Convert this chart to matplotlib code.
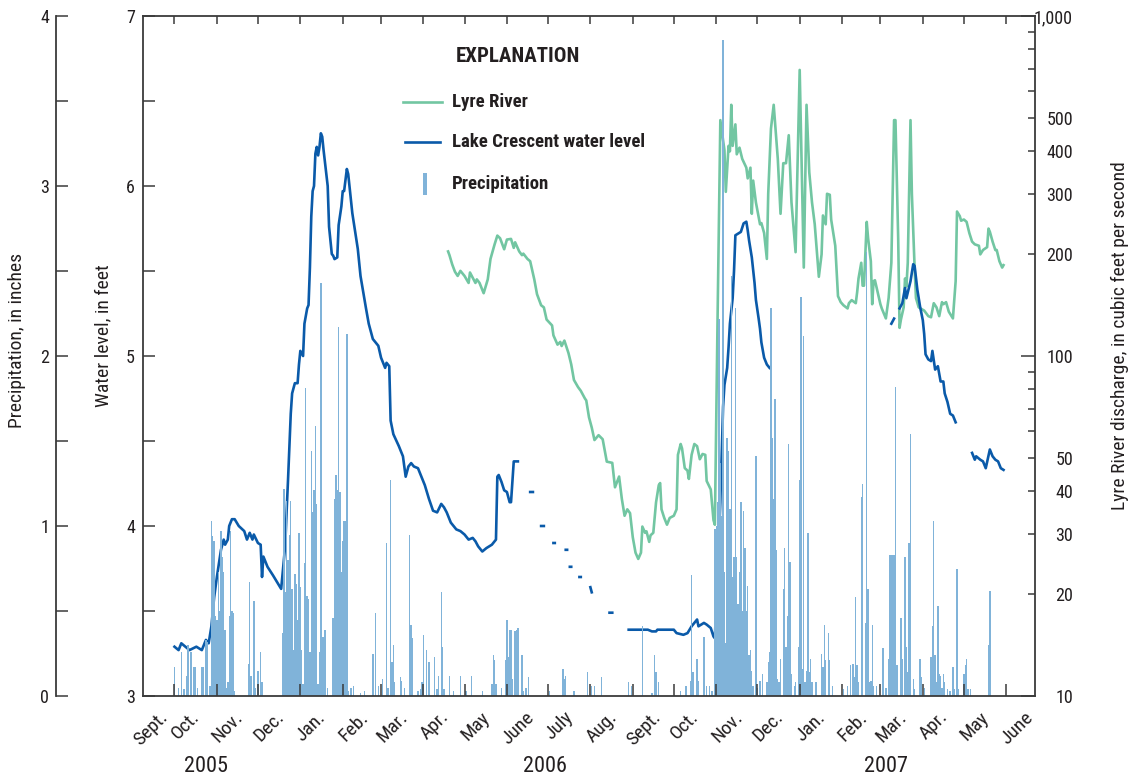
import numpy as np
import matplotlib
matplotlib.use("Agg")
import matplotlib.pyplot as plt
import matplotlib.transforms as mtransforms
from matplotlib import font_manager
from matplotlib.lines import Line2D
from matplotlib.patches import Rectangle
from matplotlib.ticker import FixedLocator, NullFormatter, FixedFormatter

# ---------------------------------------------------------------- fonts
_names = {f.name for f in font_manager.fontManager.ttflist}
_family = next((n for n in ("Liberation Sans Narrow", "Roboto Condensed", "Liberation Sans")
                if n in _names), "DejaVu Sans")
plt.rcParams["font.family"] = [_family, "DejaVu Sans"]

nan = float("nan")

# ---------------------------------------------------------------- data
# Lake Crescent water level, feet (nan marks a break in the record)
level_dates = [
    "2005-10-01", "2005-10-04", "2005-10-06", "2005-10-09", "2005-10-12", "2005-10-17",
    "2005-10-21", "2005-10-24", "2005-10-26", "2005-10-28", "2005-10-30", "2005-11-01",
    "2005-11-04", "2005-11-06", "2005-11-07", "2005-11-09", "2005-11-10", "2005-11-12",
    "2005-11-14", "2005-11-17", "2005-11-21", "2005-11-23", "2005-11-25", "2005-11-27",
    "2005-11-28", "2005-12-01", "2005-12-03", "2005-12-04", "2005-12-05", "2005-12-08",
    "2005-12-12", "2005-12-15", "2005-12-18", "2005-12-21", "2005-12-22", "2005-12-23",
    "2005-12-25", "2005-12-26", "2005-12-28", "2005-12-30", "2005-12-31", "2006-01-01",
    "2006-01-03", "2006-01-04", "2006-01-06", "2006-01-07", "2006-01-08", "2006-01-09",
    "2006-01-10", "2006-01-11", "2006-01-12", "2006-01-13", "2006-01-14", "2006-01-15",
    "2006-01-16", "2006-01-17", "2006-01-18", "2006-01-21", "2006-01-22", "2006-01-24",
    "2006-01-25", "2006-01-26", "2006-01-28", "2006-01-29", "2006-01-31", "2006-02-01",
    "2006-02-02", "2006-02-04", "2006-02-05", "2006-02-08", "2006-02-12", "2006-02-14",
    "2006-02-18", "2006-02-20", "2006-02-23", "2006-02-25", "2006-02-27", "2006-03-01",
    "2006-03-04", "2006-03-05", "2006-03-07", "2006-03-08", "2006-03-10", "2006-03-14",
    "2006-03-17", "2006-03-19", "2006-03-21", "2006-03-23", "2006-03-25", "2006-03-28",
    "2006-03-31", "2006-04-02", "2006-04-05", "2006-04-08", "2006-04-11", "2006-04-14",
    "2006-04-16", "2006-04-18", "2006-04-21", "2006-04-25", "2006-04-28", "2006-05-01",
    "2006-05-04", "2006-05-07", "2006-05-09", "2006-05-11", "2006-05-14", "2006-05-17",
    "2006-05-21", "2006-05-24", "2006-05-25", "2006-05-26", "2006-05-28", "2006-05-30",
    "2006-06-01", "2006-06-03", "2006-06-04", "2006-06-06", "2006-06-09", "2006-06-13",
    "2006-06-18", "2006-06-20", "2006-06-23", "2006-06-26", "2006-06-28", "2006-07-01",
    "2006-07-05", "2006-07-06", "2006-07-10", "2006-07-14", "2006-07-15", "2006-07-16",
    "2006-07-17", "2006-07-18", "2006-07-21", "2006-07-24", "2006-07-25", "2006-07-28",
    "2006-08-01", "2006-08-02", "2006-08-08", "2006-08-15", "2006-08-17", "2006-08-23",
    "2006-08-29", "2006-09-12", "2006-09-15", "2006-09-18", "2006-09-19", "2006-10-01",
    "2006-10-03", "2006-10-08", "2006-10-11", "2006-10-14", "2006-10-18", "2006-10-19",
    "2006-10-23", "2006-10-25", "2006-10-28", "2006-10-30", "2006-10-31", "2006-11-04",
    "2006-11-06", "2006-11-07", "2006-11-09", "2006-11-10", "2006-11-11", "2006-11-13",
    "2006-11-14", "2006-11-15", "2006-11-17", "2006-11-19", "2006-11-21", "2006-11-23",
    "2006-11-24", "2006-11-25", "2006-11-27", "2006-11-29", "2006-11-30", "2006-12-02",
    "2006-12-03", "2006-12-04", "2006-12-06", "2006-12-08", "2006-12-10", "2007-01-15",
    "2007-03-09", "2007-03-11", "2007-03-13", "2007-03-15", "2007-03-17", "2007-03-19",
    "2007-03-20", "2007-03-23", "2007-03-25", "2007-03-26", "2007-03-28", "2007-03-30",
    "2007-04-01", "2007-04-02", "2007-04-03", "2007-04-05", "2007-04-07", "2007-04-08",
    "2007-04-10", "2007-04-12", "2007-04-14", "2007-04-16", "2007-04-17", "2007-04-19",
    "2007-04-21", "2007-04-23", "2007-04-25", "2007-05-01", "2007-05-07", "2007-05-09",
    "2007-05-10", "2007-05-13", "2007-05-15", "2007-05-17", "2007-05-20", "2007-05-22",
    "2007-05-24", "2007-05-26", "2007-05-28", "2007-05-30",
]
level_ft = [
    3.29, 3.27, 3.31, 3.29, 3.27, 3.29,
    3.27, 3.33, 3.31, 3.41, 3.58, 3.70,
    3.86, 3.92, 3.89, 3.92, 4.00, 4.04,
    4.04, 4.00, 3.97, 3.92, 3.96, 3.92,
    3.95, 3.90, 3.89, 3.70, 3.82, 3.76,
    3.71, 3.67, 3.63, 3.89, 4.09, 4.27,
    4.66, 4.78, 4.84, 4.84, 4.95, 5.03,
    5.00, 5.19, 5.28, 5.30, 5.52, 5.82,
    5.97, 6.00, 6.19, 6.23, 6.18, 6.23,
    6.31, 6.29, 6.21, 6.00, 5.76, 5.60,
    5.59, 5.57, 5.58, 5.77, 5.88, 5.97,
    5.97, 6.10, 6.07, 5.84, 5.63, 5.47,
    5.28, 5.19, 5.10, 5.08, 5.06, 4.99,
    4.93, 4.96, 4.94, 4.62, 4.54, 4.47,
    4.41, 4.29, 4.35, 4.37, 4.35, 4.34,
    4.28, 4.24, 4.16, 4.09, 4.08, 4.13,
    4.11, 4.08, 4.02, 3.98, 3.97, 3.95,
    3.92, 3.93, 3.91, 3.88, 3.85, 3.87,
    3.89, 3.92, 4.29, 4.30, 4.26, 4.21,
    4.20, 4.14, 4.14, 4.38, 4.38, nan,
    4.20, 4.20, nan, 4.00, 4.00, nan,
    3.90, 3.90, nan, 3.86, 3.86, nan,
    3.76, 3.76, nan, 3.70, 3.70, nan,
    3.64, 3.61, nan, 3.49, 3.49, nan,
    3.39, 3.39, 3.38, 3.38, 3.39, 3.39,
    3.37, 3.36, 3.37, 3.41, 3.45, 3.41,
    3.43, 3.42, 3.40, 3.35, 3.34, 4.14,
    4.70, 4.83, 4.93, 5.05, 5.19, 5.34,
    5.50, 5.71, 5.72, 5.73, 5.78, 5.79,
    5.74, 5.68, 5.58, 5.43, 5.33, 5.22,
    5.16, 5.08, 4.99, 4.95, 4.93, nan,
    5.19, 5.22, nan, 5.28, 5.31, 5.40,
    5.34, 5.44, 5.54, 5.53, 5.39, 5.29,
    5.21, 5.13, 5.01, 4.98, 4.97, 5.03,
    4.92, 4.94, 4.85, 4.85, 4.78, 4.73,
    4.66, 4.65, 4.61, nan, 4.43, 4.39,
    4.41, 4.39, 4.38, 4.34, 4.45, 4.41,
    4.39, 4.38, 4.34, 4.33,
]

# Lyre River discharge, cubic feet per second
flow_dates = [
    "2006-04-19", "2006-04-20", "2006-04-22", "2006-04-24", "2006-04-26", "2006-04-28",
    "2006-05-01", "2006-05-04", "2006-05-05", "2006-05-07", "2006-05-09", "2006-05-10",
    "2006-05-12", "2006-05-15", "2006-05-18", "2006-05-20", "2006-05-23", "2006-05-25",
    "2006-05-27", "2006-05-30", "2006-06-01", "2006-06-04", "2006-06-06", "2006-06-07",
    "2006-06-10", "2006-06-12", "2006-06-13", "2006-06-16", "2006-06-18", "2006-06-21",
    "2006-06-23", "2006-06-26", "2006-06-28", "2006-06-30", "2006-07-04", "2006-07-05",
    "2006-07-08", "2006-07-10", "2006-07-11", "2006-07-13", "2006-07-16", "2006-07-18",
    "2006-07-20", "2006-07-23", "2006-07-25", "2006-07-28", "2006-07-29", "2006-07-31",
    "2006-08-02", "2006-08-04", "2006-08-06", "2006-08-07", "2006-08-10", "2006-08-13",
    "2006-08-17", "2006-08-19", "2006-08-22", "2006-08-24", "2006-08-26", "2006-08-28",
    "2006-08-30", "2006-09-01", "2006-09-03", "2006-09-05", "2006-09-07", "2006-09-08",
    "2006-09-10", "2006-09-11", "2006-09-13", "2006-09-14", "2006-09-16", "2006-09-18",
    "2006-09-20", "2006-09-21", "2006-09-22", "2006-09-24", "2006-09-26", "2006-09-28",
    "2006-10-01", "2006-10-03", "2006-10-04", "2006-10-06", "2006-10-07", "2006-10-09",
    "2006-10-11", "2006-10-12", "2006-10-14", "2006-10-16", "2006-10-18", "2006-10-20",
    "2006-10-22", "2006-10-24", "2006-10-25", "2006-10-28", "2006-10-30", "2006-10-31",
    "2006-11-02", "2006-11-04", "2006-11-07", "2006-11-08", "2006-11-10", "2006-11-11",
    "2006-11-12", "2006-11-13", "2006-11-15", "2006-11-16", "2006-11-18", "2006-11-20",
    "2006-11-23", "2006-11-24", "2006-11-26", "2006-11-27", "2006-11-28", "2006-11-30",
    "2006-12-03", "2006-12-04", "2006-12-06", "2006-12-08", "2006-12-09", "2006-12-11",
    "2006-12-13", "2006-12-16", "2006-12-18", "2006-12-20", "2006-12-22", "2006-12-24",
    "2006-12-26", "2006-12-29", "2007-01-01", "2007-01-04", "2007-01-06", "2007-01-08",
    "2007-01-10", "2007-01-12", "2007-01-15", "2007-01-17", "2007-01-18", "2007-01-20",
    "2007-01-21", "2007-01-23", "2007-01-24", "2007-01-27", "2007-01-29", "2007-01-31",
    "2007-02-02", "2007-02-05", "2007-02-06", "2007-02-08", "2007-02-11", "2007-02-12",
    "2007-02-13", "2007-02-15", "2007-02-16", "2007-02-17", "2007-02-19", "2007-02-20",
    "2007-02-22", "2007-02-23", "2007-02-24", "2007-02-25", "2007-02-27", "2007-03-01",
    "2007-03-02", "2007-03-05", "2007-03-07", "2007-03-09", "2007-03-11", "2007-03-12",
    "2007-03-14", "2007-03-15", "2007-03-16", "2007-03-18", "2007-03-19", "2007-03-20",
    "2007-03-21", "2007-03-23", "2007-03-24", "2007-03-26", "2007-03-27", "2007-03-29",
    "2007-04-02", "2007-04-05", "2007-04-07", "2007-04-09", "2007-04-11", "2007-04-13",
    "2007-04-15", "2007-04-16", "2007-04-18", "2007-04-20", "2007-04-22", "2007-04-23",
    "2007-04-25", "2007-04-26", "2007-04-28", "2007-04-29", "2007-05-01", "2007-05-03",
    "2007-05-05", "2007-05-07", "2007-05-09", "2007-05-12", "2007-05-13", "2007-05-15",
    "2007-05-18", "2007-05-19", "2007-05-20", "2007-05-22", "2007-05-24", "2007-05-25",
    "2007-05-27", "2007-05-29", "2007-05-30",
]
flow_cfs = [
    203, 198, 186, 177, 172, 178,
    172, 164, 176, 170, 164, 168,
    164, 153, 168, 193, 213, 226,
    222, 206, 220, 221, 208, 216,
    203, 198, 200, 193, 190, 168,
    152, 141, 139, 128, 123, 115,
    108, 110, 107, 111, 102, 94.5,
    85, 81, 79, 75, 74, 66,
    61.6, 56.6, 57.9, 58.5, 56.9, 48.9,
    48.5, 41.1, 44.2, 38, 33.9, 35.4,
    34.5, 29.3, 26.4, 25.3, 26.4, 31.5,
    30.2, 30.5, 28.4, 29.7, 30.2, 37.1,
    41.7, 42.3, 35.4, 33.4, 31.9, 33.4,
    33.9, 35.4, 51.2, 55.1, 53.5, 46.8,
    46, 43.5, 51.2, 55.1, 54.3, 49.7,
    51.5, 51.2, 42.9, 40.5, 32.9, 31.9,
    131, 494, 403, 304, 415, 400,
    548, 415, 480, 392, 410, 380,
    358, 333, 358, 262, 328, 283,
    244, 246, 230, 193, 300, 466,
    548, 380, 262, 369, 369, 446,
    283, 202, 694, 182, 548, 347,
    283, 244, 171, 199, 259, 244,
    300, 298, 252, 211, 150, 144,
    141, 138, 143, 146, 143, 154,
    169, 188, 161, 161, 248, 222,
    190, 142, 166, 167, 154, 142,
    138, 129, 148, 188, 494, 494,
    222, 121, 128, 139, 169, 160,
    188, 494, 300, 182, 148, 139,
    136, 131, 130, 143, 139, 131,
    144, 142, 144, 135, 131, 129,
    166, 266, 258, 250, 252, 248,
    230, 217, 213, 211, 199, 205,
    209, 237, 232, 217, 205, 205,
    190, 182, 185,
]

# Daily precipitation, inches
precip_dates = [
    "2005-10-01", "2005-10-04", "2005-10-06", "2005-10-08", "2005-10-10", "2005-10-11",
    "2005-10-13", "2005-10-15", "2005-10-16", "2005-10-18", "2005-10-21", "2005-10-22",
    "2005-10-24", "2005-10-25", "2005-10-27", "2005-10-28", "2005-10-29", "2005-10-30",
    "2005-10-31", "2005-11-01", "2005-11-02", "2005-11-03", "2005-11-04", "2005-11-05",
    "2005-11-06", "2005-11-07", "2005-11-08", "2005-11-09", "2005-11-10", "2005-11-11",
    "2005-11-12", "2005-11-13", "2005-11-14", "2005-11-24", "2005-11-25", "2005-11-26",
    "2005-11-28", "2005-11-29", "2005-12-01", "2005-12-03", "2005-12-04", "2005-12-19",
    "2005-12-20", "2005-12-21", "2005-12-22", "2005-12-23", "2005-12-24", "2005-12-25",
    "2005-12-26", "2005-12-27", "2005-12-28", "2005-12-29", "2005-12-30", "2005-12-31",
    "2006-01-01", "2006-01-02", "2006-01-03", "2006-01-04", "2006-01-05", "2006-01-06",
    "2006-01-07", "2006-01-08", "2006-01-09", "2006-01-10", "2006-01-11", "2006-01-12",
    "2006-01-13", "2006-01-14", "2006-01-15", "2006-01-16", "2006-01-17", "2006-01-18",
    "2006-01-19", "2006-01-21", "2006-01-25", "2006-01-26", "2006-01-27", "2006-01-28",
    "2006-01-29", "2006-01-30", "2006-01-31", "2006-02-01", "2006-02-02", "2006-02-03",
    "2006-02-04", "2006-02-05", "2006-02-07", "2006-02-09", "2006-02-14", "2006-02-17",
    "2006-02-23", "2006-02-25", "2006-02-27", "2006-03-02", "2006-03-05", "2006-03-06",
    "2006-03-08", "2006-03-09", "2006-03-10", "2006-03-11", "2006-03-15", "2006-03-16",
    "2006-03-18", "2006-03-22", "2006-03-23", "2006-03-24", "2006-03-28", "2006-03-30",
    "2006-03-31", "2006-04-01", "2006-04-03", "2006-04-05", "2006-04-09", "2006-04-11",
    "2006-04-12", "2006-04-14", "2006-04-15", "2006-04-16", "2006-04-20", "2006-04-23",
    "2006-04-28", "2006-05-02", "2006-05-06", "2006-05-14", "2006-05-21", "2006-05-22",
    "2006-05-23", "2006-05-24", "2006-05-28", "2006-05-31", "2006-06-01", "2006-06-02",
    "2006-06-03", "2006-06-04", "2006-06-05", "2006-06-07", "2006-06-08", "2006-06-09",
    "2006-06-12", "2006-06-13", "2006-06-15", "2006-06-17", "2006-07-02", "2006-07-12",
    "2006-07-13", "2006-07-14", "2006-07-20", "2006-07-30", "2006-08-02", "2006-08-04",
    "2006-08-09", "2006-08-29", "2006-08-31", "2006-09-08", "2006-09-15", "2006-09-17",
    "2006-09-18", "2006-09-20", "2006-10-06", "2006-10-10", "2006-10-13", "2006-10-14",
    "2006-10-15", "2006-10-18", "2006-10-19", "2006-10-23", "2006-10-25", "2006-10-27",
    "2006-10-29", "2006-10-31", "2006-11-01", "2006-11-02", "2006-11-03", "2006-11-04",
    "2006-11-05", "2006-11-06", "2006-11-07", "2006-11-08", "2006-11-09", "2006-11-10",
    "2006-11-11", "2006-11-12", "2006-11-13", "2006-11-14", "2006-11-15", "2006-11-16",
    "2006-11-17", "2006-11-18", "2006-11-19", "2006-11-20", "2006-11-21", "2006-11-22",
    "2006-11-23", "2006-11-24", "2006-11-25", "2006-11-26", "2006-11-27", "2006-11-28",
    "2006-11-30", "2006-12-01", "2006-12-03", "2006-12-05", "2006-12-08", "2006-12-09",
    "2006-12-10", "2006-12-11", "2006-12-12", "2006-12-13", "2006-12-14", "2006-12-15",
    "2006-12-16", "2006-12-17", "2006-12-18", "2006-12-20", "2006-12-21", "2006-12-22",
    "2006-12-23", "2006-12-24", "2006-12-25", "2006-12-26", "2006-12-28", "2006-12-29",
    "2006-12-31", "2007-01-01", "2007-01-02", "2007-01-03", "2007-01-04", "2007-01-05",
    "2007-01-06", "2007-01-07", "2007-01-08", "2007-01-09", "2007-01-10", "2007-01-13",
    "2007-01-17", "2007-01-18", "2007-01-19", "2007-01-20", "2007-01-22", "2007-01-23",
    "2007-01-25", "2007-02-02", "2007-02-05", "2007-02-07", "2007-02-09", "2007-02-10",
    "2007-02-11", "2007-02-12", "2007-02-13", "2007-02-15", "2007-02-16", "2007-02-18",
    "2007-02-19", "2007-02-20", "2007-02-21", "2007-02-22", "2007-02-23", "2007-02-24",
    "2007-02-26", "2007-03-03", "2007-03-05", "2007-03-07", "2007-03-08", "2007-03-09",
    "2007-03-10", "2007-03-11", "2007-03-12", "2007-03-13", "2007-03-16", "2007-03-17",
    "2007-03-19", "2007-03-20", "2007-03-21", "2007-03-22", "2007-03-23", "2007-03-25",
    "2007-03-26", "2007-03-30", "2007-03-31", "2007-04-02", "2007-04-07", "2007-04-08",
    "2007-04-09", "2007-04-10", "2007-04-11", "2007-04-12", "2007-04-13", "2007-04-14",
    "2007-04-15", "2007-04-16", "2007-04-17", "2007-04-19", "2007-04-21", "2007-04-23",
    "2007-04-24", "2007-04-26", "2007-04-27", "2007-05-01", "2007-05-02", "2007-05-03",
    "2007-05-04", "2007-05-06", "2007-05-19", "2007-05-20",
]
precip_in = [
    0.17, 0.05, 0.26, 0.04, 0.12, 0.30,
    0.26, 0.17, 0.17, 0.05, 0.17, 0.17,
    0.33, 0.32, 0.06, 1.03, 0.94, 0.91,
    0.47, 0.45, 0.73, 0.50, 0.97, 0.82,
    0.73, 0.39, 0.05, 0.08, 0.47, 0.97,
    0.50, 0.49, 0.03, 0.19, 0.67, 0.12,
    0.56, 0.05, 0.15, 0.26, 0.08, 0.37,
    1.22, 0.61, 1.15, 0.80, 0.95, 1.15,
    0.63, 0.27, 0.72, 0.66, 0.45, 0.96,
    0.64, 0.27, 0.07, 0.78, 1.81, 0.59,
    0.57, 0.26, 1.44, 1.08, 1.21, 1.59,
    1.13, 0.07, 0.26, 2.43, 0.35, 0.35,
    0.39, 0.05, 0.46, 1.16, 1.30, 1.21,
    2.17, 1.20, 0.73, 0.91, 1.03, 1.03,
    2.13, 0.03, 0.05, 0.06, 0.02, 0.03,
    0.25, 0.49, 0.06, 0.10, 0.90, 0.05,
    1.27, 0.20, 0.30, 0.08, 0.11, 0.09,
    0.05, 0.95, 0.42, 0.34, 0.03, 0.04,
    0.08, 0.36, 0.27, 0.20, 0.23, 0.04,
    0.12, 0.61, 0.29, 0.04, 0.12, 0.03,
    0.12, 0.03, 0.12, 0.03, 0.07, 0.24,
    0.21, 0.07, 0.05, 0.21, 0.45, 0.23,
    0.39, 0.39, 0.10, 0.38, 0.39, 0.40,
    0.24, 0.03, 0.05, 0.11, 0.03, 0.16,
    0.10, 0.12, 0.03, 0.14, 0.06, 0.06,
    0.11, 0.08, 0.06, 0.41, 0.02, 0.24,
    0.14, 0.08, 0.03, 0.06, 0.09, 0.71,
    0.14, 0.22, 0.09, 0.35, 0.06, 0.06,
    0.03, 0.98, 1.00, 1.14, 2.22, 1.37,
    1.06, 3.86, 0.73, 0.31, 1.52, 1.44,
    1.10, 2.47, 0.70, 0.82, 2.28, 0.82,
    0.54, 0.73, 1.14, 0.50, 1.09, 0.87,
    0.50, 0.65, 0.24, 0.27, 0.15, 0.06,
    1.41, 0.05, 0.09, 0.13, 0.08, 0.20,
    0.26, 2.28, 1.52, 1.16, 1.75, 0.86,
    0.10, 0.08, 0.22, 0.63, 0.87, 0.29,
    0.47, 1.48, 0.79, 0.13, 0.06, 0.08,
    0.29, 1.27, 2.35, 0.16, 2.12, 0.08,
    0.15, 0.96, 0.14, 0.22, 0.08, 0.08,
    0.25, 0.17, 0.42, 0.21, 0.37, 0.21,
    0.06, 0.04, 0.06, 0.18, 0.19, 0.11,
    0.58, 0.18, 0.08, 1.17, 1.25, 0.43,
    2.61, 0.63, 0.08, 0.09, 0.42, 0.06,
    0.06, 0.28, 0.05, 0.22, 0.83, 0.83,
    0.83, 0.83, 1.82, 0.18, 0.46, 0.22,
    0.82, 0.29, 0.14, 0.90, 1.54, 0.10,
    0.04, 0.22, 0.11, 0.05, 0.23, 0.41,
    1.03, 0.24, 0.08, 0.53, 0.13, 0.12,
    0.05, 0.13, 0.08, 0.04, 0.03, 0.17,
    0.04, 0.75, 0.04, 0.13, 0.18, 0.22,
    0.04, 0.04, 0.30, 0.62,
]

month_names = ["Sept.", "Oct.", "Nov.", "Dec.", "Jan.", "Feb.", "Mar.", "Apr.",
               "May", "June", "July", "Aug.", "Sept.", "Oct.", "Nov.", "Dec.",
               "Jan.", "Feb.", "Mar.", "Apr.", "May", "June"]
year_labels = ["2005", "2006", "2007"]
year_label_dates = ["2005-10-24", "2006-06-29", "2007-03-05"]

level_ticks = [3, 4, 5, 6, 7]
precip_ticks = [0, 1, 2, 3, 4]
flow_major = [10, 100, 1000]
flow_minor = [20, 30, 40, 50, 60, 70, 80, 90, 200, 300, 400, 500, 600, 700, 800, 900]
flow_minor_labels = ["20", "30", "40", "50", "", "", "", "",
                     "200", "300", "400", "500", "", "", "", ""]

# ---------------------------------------------------------------- style
C_LEVEL = "#0a5aa9"
C_FLOW = "#72c6a2"
C_PRECIP = "#80b3d9"
C_AXIS = "#3a3a3a"
C_TEXT = "#231f20"
PX = 72.0 / 100.0   # points per pixel at 100 dpi

W, H = 1133, 775
fig = plt.figure(figsize=(W / 100, H / 100), dpi=100, facecolor="white")
L, R, T, B = 143, 1035, 16, 696
rect = [L / W, (H - B) / H, (R - L) / W, (B - T) / H]

ax_w = fig.add_axes(rect)          # water level (host)
ax_q = ax_w.twinx()                # discharge, log scale
ax_p = ax_w.twinx()                # precipitation, drawn on top
ax_q.set_zorder(0)
ax_w.set_zorder(1)
ax_p.set_zorder(2)
ax_w.patch.set_visible(False)

d_level = np.array(level_dates, dtype="datetime64[D]")
d_flow = np.array(flow_dates, dtype="datetime64[D]")
d_precip = np.array(precip_dates, dtype="datetime64[D]")

ax_q.plot(d_flow, flow_cfs, color=C_FLOW, lw=1.9, solid_joinstyle="round")
ax_w.plot(d_level, level_ft, color=C_LEVEL, lw=1.9, solid_joinstyle="round")
ax_p.bar(d_precip, precip_in, width=1.0, color=C_PRECIP, linewidth=0, align="center")

x0, x1 = np.datetime64("2005-09-08"), np.datetime64("2007-06-22")
ax_w.set_xlim(x0, x1)
ax_w.set_ylim(3, 7)
ax_p.set_ylim(0, 4)
ax_q.set_yscale("log")
ax_q.set_ylim(10, 1000)

# ---------------------------------------------------------------- spines
for a in (ax_w, ax_q, ax_p):
    for s in a.spines.values():
        s.set_visible(False)
        s.set_color(C_AXIS)
        s.set_linewidth(1.3)
ax_w.spines["left"].set_visible(True)
ax_q.spines["right"].set_visible(True)
ax_p.spines["left"].set_visible(True)
ax_p.spines["left"].set_position(("axes", (56 - L) / (R - L)))
ax_p.spines["top"].set_visible(True)
ax_p.spines["bottom"].set_visible(True)

TICK_FS = 13
MONTH_FS = 14

# water level axis
ax_w.yaxis.set_major_locator(FixedLocator(level_ticks))
ax_w.yaxis.set_minor_locator(FixedLocator([3.5, 4.5, 5.5, 6.5]))
ax_w.tick_params(axis="y", which="both", left=True, right=False, direction="in",
                 length=12 * PX, width=1.1, color=C_AXIS, labelsize=TICK_FS,
                 pad=8 * PX, labelcolor=C_TEXT)

# precipitation axis
ax_p.yaxis.tick_left()
ax_p.yaxis.set_major_locator(FixedLocator(precip_ticks))
ax_p.yaxis.set_minor_locator(FixedLocator([0.5, 1.5, 2.5, 3.5]))
ax_p.tick_params(axis="y", which="both", left=True, right=False, direction="in",
                 length=12 * PX, width=1.1, color=C_AXIS, labelsize=TICK_FS,
                 pad=7 * PX, labelcolor=C_TEXT)

# discharge axis
ax_q.yaxis.set_major_locator(FixedLocator(flow_major))
ax_q.yaxis.set_major_formatter(FixedFormatter(["10", "100", "1,000"]))
ax_q.yaxis.set_minor_locator(FixedLocator(flow_minor))
ax_q.yaxis.set_minor_formatter(FixedFormatter(flow_minor_labels))
ax_q.tick_params(axis="y", which="major", right=True, left=False, direction="in",
                 length=14 * PX, width=1.1, color=C_AXIS, labelsize=TICK_FS,
                 pad=38 * PX, labelcolor=C_TEXT)
ax_q.tick_params(axis="y", which="minor", right=True, left=False, direction="in",
                 length=7 * PX, width=1.1, color=C_AXIS, labelsize=TICK_FS,
                 pad=38 * PX, labelcolor=C_TEXT)
for lab in ax_q.get_yticklabels(which="both"):
    lab.set_horizontalalignment("right")

# month ticks (shared x locator)
month_starts = np.arange(np.datetime64("2005-10"), np.datetime64("2007-07"),
                         dtype="datetime64[M]").astype("datetime64[D]")
jan_starts = np.array(["2006-01-01", "2007-01-01"], dtype="datetime64[D]")
ax_p.xaxis.set_visible(True)
ax_p.xaxis.set_major_locator(FixedLocator(month_starts.astype(float)))
ax_p.xaxis.set_minor_locator(FixedLocator(jan_starts.astype(float)))
ax_p.xaxis.set_major_formatter(NullFormatter())
ax_p.xaxis.set_minor_formatter(NullFormatter())
ax_p.tick_params(axis="x", which="major", bottom=True, top=False, direction="in",
                 length=12 * PX, width=1.1, color=C_AXIS)
ax_p.tick_params(axis="x", which="minor", bottom=True, top=False, direction="out",
                 length=9 * PX, width=1.1, color=C_AXIS)
ax_w.tick_params(axis="x", which="major", bottom=False, top=True, direction="in",
                 length=8 * PX, width=1.1, color=C_AXIS, labelbottom=False, labeltop=False)
ax_w.tick_params(axis="x", which="minor", bottom=False, top=False)

# month labels, centred within each month
label_pos = [np.datetime64("2005-09-14")] + [m + np.timedelta64(8, "D") for m in month_starts]
trans = mtransforms.blended_transform_factory(ax_p.transData, ax_p.transAxes)
for name, pos in zip(month_names, label_pos):
    ax_p.text(pos, -12 / (B - T), name, transform=trans, rotation=45,
              ha="center", va="top", fontsize=MONTH_FS, color=C_TEXT)
for name, pos in zip(year_labels, year_label_dates):
    ax_p.text(np.datetime64(pos), -70 / (B - T), name, transform=trans,
              ha="center", va="center", fontsize=16, color=C_TEXT)

# axis titles
fig.text(17 / W, 1 - 340 / H, "Precipitation, in inches", rotation=90,
         ha="center", va="center", fontsize=14, color=C_TEXT)
fig.text(103 / W, 1 - 336 / H, "Water level, in feet", rotation=90,
         ha="center", va="center", fontsize=14, color=C_TEXT)
fig.text(1120 / W, 1 - 336 / H, "Lyre River discharge, in cubic feet per second",
         rotation=90, ha="center", va="center", fontsize=14, color=C_TEXT)

# explanation block
fig.text(518 / W, 1 - 57 / H, "EXPLANATION", ha="center", va="center",
         fontsize=15, fontweight="bold", color=C_TEXT)
entries = [("Lyre River", 102), ("Lake Crescent water level", 142), ("Precipitation", 184)]
fig.add_artist(Line2D([403 / W, 442 / W], [1 - 102 / H, 1 - 102 / H],
                      transform=fig.transFigure, color=C_FLOW, lw=1.9))
fig.add_artist(Line2D([405 / W, 440 / W], [1 - 142 / H, 1 - 142 / H],
                      transform=fig.transFigure, color=C_LEVEL, lw=1.9))
fig.add_artist(Rectangle((422.5 / W, 1 - 195 / H), 4 / W, 22 / H,
                         transform=fig.transFigure, color=C_PRECIP, lw=0))
for text, y in entries:
    fig.text(452 / W, 1 - y / H, text, ha="left", va="center",
             fontsize=13.5, fontweight="bold", color=C_TEXT)

fig.savefig("out.png", dpi=100, facecolor="white")
